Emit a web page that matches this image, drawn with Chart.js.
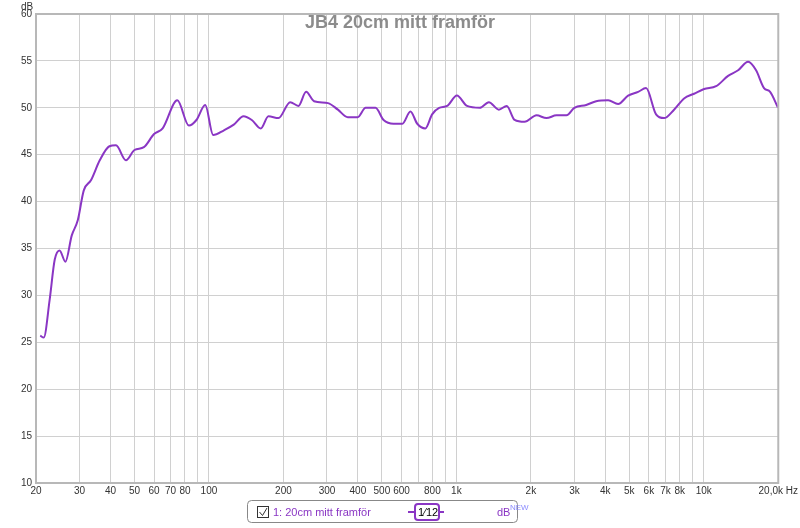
<!DOCTYPE html>
<html>
<head>
<meta charset="utf-8">
<script src="https://cdn.jsdelivr.net/npm/chart.js@4"></script>
<style>
  body { margin: 0; background: #fff; }
  #wrap { width: 800px; height: 528px; }
</style>
</head>
<body>
<div id="wrap"><canvas id="chart" width="800" height="528"></canvas></div>
<script>
const frekvenser = [20.8, 21.5, 22.7, 23.8, 24.9, 26.3, 27.9, 29.5, 31.2, 33.4, 36.2, 39.6, 42.1, 46.2, 50, 54.6, 60, 65, 74.5, 83, 89, 96.6, 104, 115, 126, 138, 149, 162, 174, 191, 213, 230, 247, 266, 303, 332, 364, 399, 430, 471, 508, 557, 605, 652, 695, 749, 798, 852, 918, 1005, 1104, 1244, 1353, 1485, 1598, 1720, 1887, 2109, 2313, 2539, 2787, 2999, 3348, 3674, 4106, 4505, 4945, 5428, 5844, 6414, 6908, 7583, 8323, 9136, 10028, 11213, 12538, 13763, 15106, 16266, 17515, 18539, 19962];
const nivaer = [25.7, 25.5, 29.5, 33.8, 34.8, 33.6, 36.4, 38.0, 41.2, 42.3, 44.4, 45.9, 46.0, 44.4, 45.5, 45.8, 47.2, 47.8, 50.8, 48.1, 48.7, 50.3, 47.1, 47.6, 48.2, 49.1, 48.7, 47.8, 49.1, 48.9, 50.6, 50.2, 51.7, 50.7, 50.5, 49.8, 49.0, 49.0, 50.0, 50.0, 48.7, 48.3, 48.3, 49.6, 48.3, 47.8, 49.3, 50.0, 50.2, 51.3, 50.2, 50.0, 50.6, 49.8, 50.2, 48.7, 48.5, 49.2, 48.9, 49.2, 49.2, 50.0, 50.3, 50.7, 50.8, 50.4, 51.3, 51.7, 52.1, 49.3, 48.9, 49.8, 51.0, 51.5, 52.0, 52.3, 53.4, 54.0, 54.9, 54.0, 52.1, 51.7, 50.0];
const xTicks = [20, 30, 40, 50, 60, 70, 80, 90, 100, 200, 300, 400, 500, 600, 700, 800, 900, 1000, 2000, 3000, 4000, 5000, 6000, 7000, 8000, 9000, 10000, 20000];
const xEtiketter = { 20: "20", 30: "30", 40: "40", 50: "50", 60: "60", 70: "70", 80: "80", 100: "100", 200: "200", 300: "300", 400: "400", 500: "500", 600: "600", 800: "800", 1000: "1k", 2000: "2k", 3000: "3k", 4000: "4k", 5000: "5k", 6000: "6k", 7000: "7k", 8000: "8k", 10000: "10k", 20000: "20,0k Hz" };
const yTicks = [10, 15, 20, 25, 30, 35, 40, 45, 50, 55, 60];

const farg = "#8a36c4";

const extraText = {
  id: "extraText",
  afterDraw(chart) {
    const ctx = chart.ctx;
    const a = chart.chartArea;
    ctx.save();
    // ram
    ctx.strokeStyle = "#b8b8b8";
    ctx.lineWidth = 2;
    ctx.strokeRect(a.left, a.top, a.right - a.left, a.bottom - a.top);
    // titel
    ctx.fillStyle = "#8c8c8c";
    ctx.font = "bold 18px 'Liberation Sans', Arial, sans-serif";
    ctx.textAlign = "center";
    ctx.textBaseline = "middle";
    ctx.fillText("JB4 20cm mitt framför", 400, 23);
    // enhet
    ctx.fillStyle = "#333";
    ctx.font = "10px 'Liberation Sans', Arial, sans-serif";
    ctx.textAlign = "left";
    ctx.fillText("dB", 21, 7);
    // legendruta
    ctx.strokeStyle = "#888";
    ctx.lineWidth = 1;
    ctx.beginPath();
    ctx.roundRect(247.5, 500.5, 270, 22, 4);
    ctx.stroke();
    ctx.strokeStyle = "#333";
    ctx.strokeRect(257.5, 506.5, 11, 11);
    ctx.beginPath();
    ctx.moveTo(259.5, 512); ctx.lineTo(262.5, 515.5); ctx.lineTo(267, 508);
    ctx.stroke();
    ctx.fillStyle = farg;
    ctx.font = "11px 'Liberation Sans', Arial, sans-serif";
    ctx.textBaseline = "middle";
    ctx.fillText("1: 20cm mitt framför", 273, 512.5);
    ctx.strokeStyle = farg;
    ctx.lineWidth = 2;
    ctx.beginPath();
    ctx.moveTo(408, 512); ctx.lineTo(444, 512); ctx.stroke();
    ctx.fillStyle = "#fff";
    ctx.beginPath();
    ctx.roundRect(415, 504, 24, 16, 3);
    ctx.fill(); ctx.stroke();
    ctx.fillStyle = "#000";
    ctx.font = "11px 'Liberation Sans', Arial, sans-serif";
    ctx.fillText("1⁄12", 418, 512.5);
    ctx.fillStyle = farg;
    ctx.fillText("dB", 497, 513);
    ctx.fillStyle = "#8a8aff";
    ctx.font = "8px 'Liberation Sans', Arial, sans-serif";
    ctx.fillText("NEW", 510, 508);
    ctx.restore();
  }
};

new Chart(document.getElementById("chart"), {
  type: "line",
  data: {
    datasets: [{
      data: frekvenser.map((f, i) => ({ x: f, y: nivaer[i] })),
      borderColor: farg,
      borderWidth: 2,
      pointRadius: 0,
      cubicInterpolationMode: "monotone",
      fill: false
    }]
  },
  options: {
    responsive: false,
    animation: false,
    layout: { padding: { top: 14, right: 12, bottom: 29, left: 0 } },
    plugins: { legend: { display: false }, tooltip: { enabled: false } },
    scales: {
      x: {
        type: "logarithmic",
        min: 20, max: 20000,
        afterBuildTicks: (s) => { s.ticks = xTicks.map((v) => ({ value: v })); },
        ticks: {
          autoSkip: false, maxRotation: 0, color: "#333", padding: 2,
          font: { size: 10, family: "'Liberation Sans', Arial, sans-serif" },
          callback: (v) => xEtiketter[v] || ""
        },
        grid: { color: "#d0d0d0", drawTicks: false },
        border: { display: false }
      },
      y: {
        min: 10, max: 60,
        afterBuildTicks: (s) => { s.ticks = yTicks.map((v) => ({ value: v })); },
        afterFit: (s) => { s.width = 36; },
        ticks: {
          color: "#333", padding: 4,
          font: { size: 10, family: "'Liberation Sans', Arial, sans-serif" }
        },
        grid: { color: "#d0d0d0", drawTicks: false },
        border: { display: false }
      }
    }
  },
  plugins: [extraText]
});
</script>
</body>
</html>
